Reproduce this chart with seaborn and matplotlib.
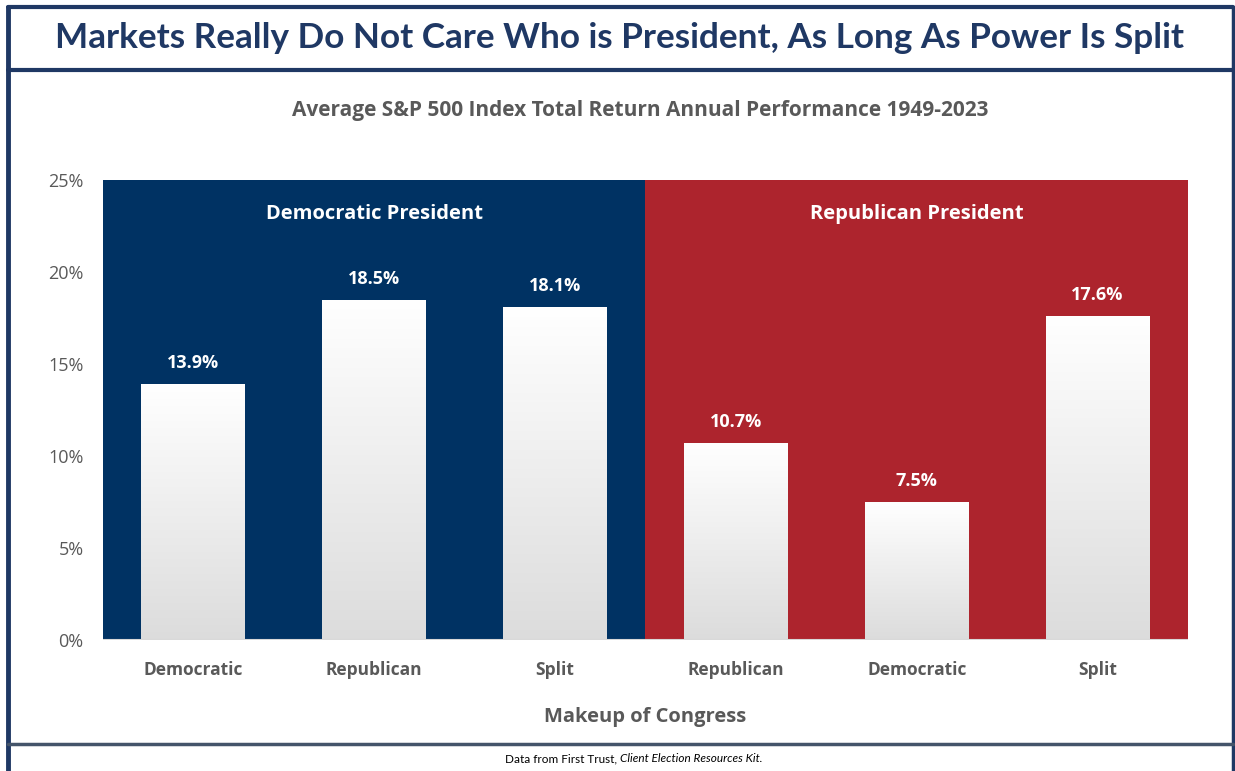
import numpy as np
import pandas as pd
import matplotlib
matplotlib.use("Agg")
import matplotlib.pyplot as plt
from matplotlib.lines import Line2D
import seaborn as sns

# data
president = ["Democratic President"] * 3 + ["Republican President"] * 3
congress = ["Democratic", "Republican", "Split", "Republican", "Democratic", "Split"]
avg_return = [13.9, 18.5, 18.1, 10.7, 7.5, 17.6]
y_ticks = [0, 5, 10, 15, 20, 25]

BLUE = "#003263"
RED = "#AD242D"
NAVY = "#1F3864"
GREY = "#595959"

df = pd.DataFrame({
    "slot": [f"{p}|{c}" for p, c in zip(president, congress)],
    "president": president,
    "congress": congress,
    "avg_return": avg_return,
})

sns.set_style("white")
cond = ["Open Sans", "DejaVu Sans"]
plt.rcParams["font.family"] = cond

fig = plt.figure(figsize=(12.35, 7.71), dpi=100)
ax = fig.add_axes([0.0834, 0.170, 0.8785, 0.5965])

sns.barplot(data=df, x="slot", y="avg_return", color="white", width=0.575,
            edgecolor="none", ax=ax, zorder=3)
bars = list(ax.patches)

n_dem = president.count("Democratic President")
ax.axvspan(-0.5, n_dem - 0.5, color=BLUE, zorder=0, lw=0)
ax.axvspan(n_dem - 0.5, len(df) - 0.5, color=RED, zorder=0, lw=0)
ax.set_xlim(-0.5, len(df) - 0.5)
ax.set_ylim(0, 25)

# white-to-grey gradient inside each bar
grad = np.linspace(0, 1, 256).reshape(-1, 1)
gcmap = matplotlib.colors.LinearSegmentedColormap.from_list("g", ["#DCDCDC", "#FFFFFF"])
for patch in bars:
    x0, y0 = patch.get_x(), patch.get_y()
    w, h = patch.get_width(), patch.get_height()
    im = ax.imshow(grad, extent=[x0, x0 + w, y0, y0 + h], origin="lower",
                   cmap=gcmap, aspect="auto", zorder=4)
    im.set_clip_path(patch)

for i, v in enumerate(avg_return):
    ax.text(i, v + 0.65, f"{v:.1f}%", ha="center", va="bottom", color="white",
            fontsize=13, fontweight="bold", zorder=5)

ax.text((n_dem - 1) / 2, 23.15, "Democratic President", ha="center", va="center",
        color="white", fontsize=14.5, fontweight="bold")
ax.text(n_dem + (len(df) - n_dem - 1) / 2, 23.15, "Republican President", ha="center",
        va="center", color="white", fontsize=14.5, fontweight="bold")

ax.set_yticks(y_ticks)
ax.set_yticklabels([f"{t}%" for t in y_ticks], color=GREY, fontsize=13)
ax.set_xticks(range(len(df)))
ax.set_xticklabels(congress, color=GREY, fontsize=12.5, fontweight="bold")
ax.tick_params(axis="x", pad=15, length=0)
ax.tick_params(axis="y", pad=14, length=0)
ax.set_xlabel("Makeup of Congress", color=GREY, fontsize=14.5, fontweight="bold",
              labelpad=20)
ax.set_ylabel("")
for s in ax.spines.values():
    s.set_visible(False)
ax.axhline(0, color="#D9D9D9", lw=1.5, zorder=6)

fig.text(0.502, 0.951, "Markets Really Do Not Care Who is President, As Long As Power Is Split",
         ha="center", va="center", color=NAVY, fontsize=25.3, fontweight="bold",
         family=["Lato", "DejaVu Sans"])
fig.text(0.518, 0.857, "Average S&P 500 Index Total Return Annual Performance 1949-2023",
         ha="center", va="center", color=GREY, fontsize=15, fontweight="bold")
fig.text(0.502, 0.016, "Data from First Trust, ", ha="right", va="center",
         color="black", fontsize=8.5, family=["Lato", "DejaVu Sans"])
fig.text(0.502, 0.016, "Client Election Resources Kit.", ha="left", va="center",
         color="black", fontsize=8.5, style="italic", family=["Lato", "DejaVu Sans"])

# frame lines
fig.add_artist(Line2D([0.0065, 0.0065], [0, 0.991], color=NAVY, lw=3.5))
fig.add_artist(Line2D([0.998, 0.998], [0, 0.991], color=NAVY, lw=2.5))
fig.add_artist(Line2D([0.0065, 0.998], [0.991, 0.991], color=NAVY, lw=3))
fig.add_artist(Line2D([0.0065, 0.998], [0.909, 0.909], color=NAVY, lw=3))
fig.add_artist(Line2D([0.0065, 0.998], [0.035, 0.035], color="#44546A", lw=2.5))

fig.savefig("out.png", dpi=100)
